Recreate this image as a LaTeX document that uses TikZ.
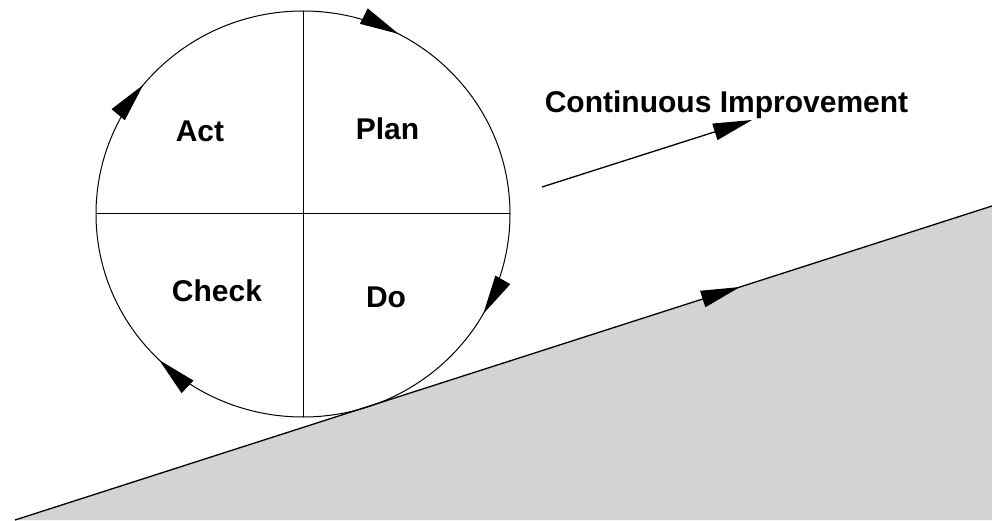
\documentclass[tikz,border=0pt]{standalone}
\usepackage{fontspec}
\setmainfont{Liberation Sans}
\usetikzlibrary{arrows.meta, decorations.markings}
\definecolor{hillgray}{RGB}{211,211,211}
\begin{document}
\begin{tikzpicture}[
  x=1pt, y=1pt,
  line width=1pt,
  lbl/.style={font=\fontsize{30}{35}\selectfont\bfseries, anchor=base, inner sep=0pt},
  bigtip/.style={-{Triangle[length=39pt, width=17pt]}},
  cycletip/.style={postaction={decorate, decoration={markings,
    mark=at position 0.077 with {\arrow{Triangle[length=39pt, width=17pt]}},
    mark=at position 0.331 with {\arrow{Triangle[length=39pt, width=17pt]}},
    mark=at position 0.623 with {\arrow{Triangle[length=39pt, width=17pt]}},
    mark=at position 0.859 with {\arrow{Triangle[length=39pt, width=17pt]}}}}}
]
  \useasboundingbox (0,0) rectangle (992,520);

  \coordinate (hill foot) at (15,0);
  \coordinate (hill top) at (992,314);
  \coordinate (hill corner) at (992,0);
  \fill[hillgray] (hill foot) -- (hill top) -- (hill corner) -- cycle;
  \draw[line width=1.3pt, postaction={decorate, decoration={markings,
    mark=at position 0.742 with {\arrow{Triangle[length=39pt, width=17pt]}}}}]
    (hill foot) -- (hill top);

  \coordinate (c) at (303,306);
  \draw[cycletip] (c) ++(0,203) arc[start angle=90, end angle=-270, x radius=207, y radius=203];
  \coordinate (n) at (303,509);
  \coordinate (s) at (303,103);
  \coordinate (w) at (96,306);
  \coordinate (e) at (510,306);
  \draw (n) -- (s);
  \draw (w) -- (e);

  \node[lbl] (act) at (200,378) {Act};
  \node[lbl] (plan) at (387.5,380) {Plan};
  \node[lbl] (check) at (217,219) {Check};
  \node[lbl] (do) at (386,213) {Do};

  \coordinate (ci start) at (542,333);
  \coordinate (ci end) at (752,400);
  \draw[bigtip, line width=1.3pt] (ci start) -- (ci end);
  \node[lbl] (ci) at (726.5,407.3) {Continuous Improvement};
\end{tikzpicture}
\end{document}
